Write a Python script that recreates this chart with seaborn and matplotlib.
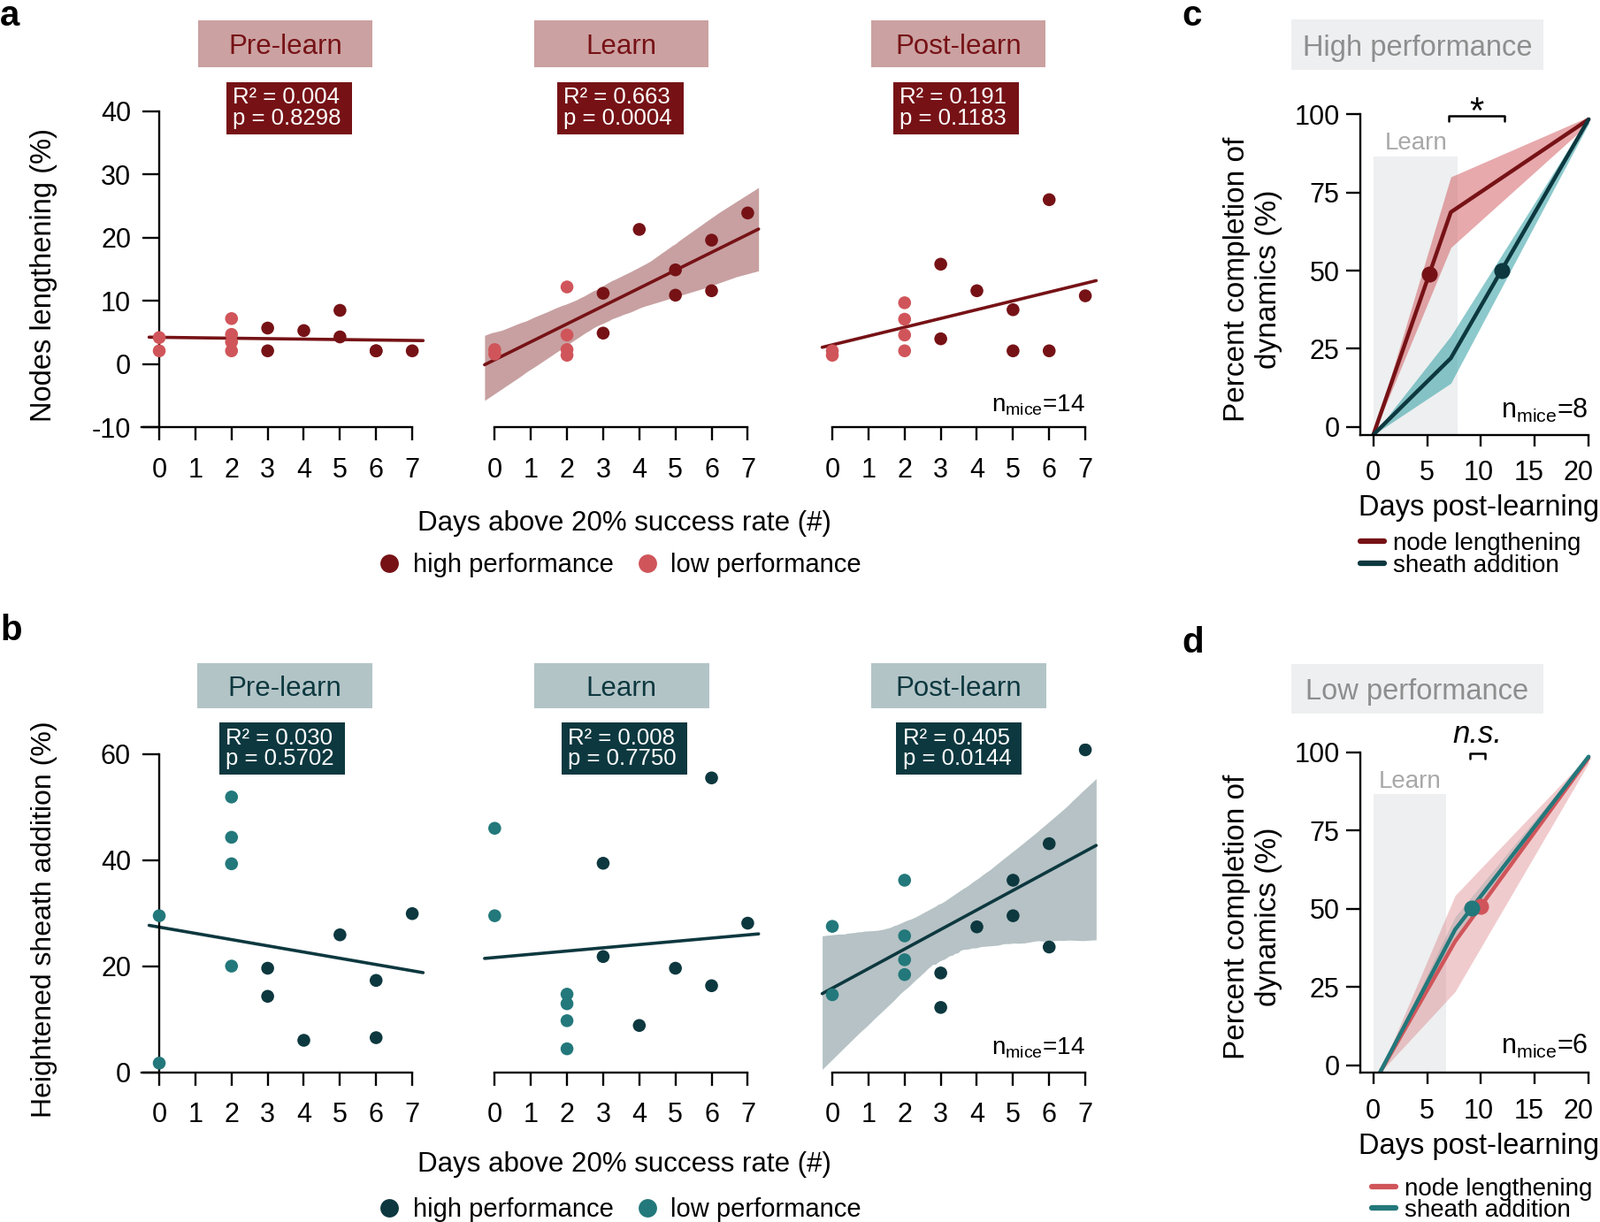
import numpy as np
import pandas as pd
import seaborn as sns
import matplotlib.pyplot as plt
from matplotlib.lines import Line2D
from matplotlib.patches import Rectangle
from matplotlib.transforms import ScaledTranslation

# ---- data: panel a (node lengthening, %) ----
days_high = [3, 3, 4, 5, 5, 6, 6, 7]
days_low = [0, 0, 2, 2, 2, 2]
node_pre_high = [5.7, 2.1, 5.3, 8.5, 4.3, 2.1, 2.1, 2.1]
node_pre_low = [4.2, 2.1, 7.2, 4.7, 3.5, 2.1]
node_learn_high = [11.2, 4.9, 21.3, 14.9, 10.9, 19.6, 11.6, 23.9]
node_learn_low = [2.3, 1.6, 12.2, 4.6, 2.3, 1.4]
node_post_high = [15.8, 4.0, 11.6, 8.6, 2.1, 26.0, 2.1, 10.8]
node_post_low = [2.1, 1.4, 9.7, 7.1, 4.6, 2.1]

# ---- data: panel b (heightened sheath addition, %) ----
days_high_b = [3, 3, 4, 5, 6, 6, 7]
sheath_pre_high = [19.6, 14.3, 6.0, 25.9, 17.3, 6.5, 29.9]
sheath_pre_low = [29.5, 1.7, 51.9, 44.3, 39.3, 20.0]
sheath_learn_high = [39.4, 21.8, 8.8, 19.6, 55.5, 16.3, 28.1]
sheath_learn_low = [46.0, 29.5, 14.7, 12.9, 9.7, 4.4]
sheath_post_high = [18.7, 12.2, 27.4, 36.2, 29.5, 43.1, 23.6, 60.8]
sheath_post_low = [27.5, 14.6, 36.2, 25.7, 21.2, 18.4]

phases = ["Pre-learn", "Learn", "Post-learn"]
r2_node = ["0.004", "0.663", "0.191"]
p_node = ["0.8298", "0.0004", "0.1183"]
r2_sheath = ["0.030", "0.008", "0.405"]
p_sheath = ["0.5702", "0.7750", "0.0144"]
ci_node = [None, 99, None]
ci_sheath = [None, None, 97]

# ---- data: panels c/d (percent completion of dynamics) ----
days_c = [0, 7.2, 20]
node_c = [-2.5, 68.7, 98.4]
node_c_lo = [-2.5, 57.4, 97.0]
node_c_hi = [-2.5, 80.0, 99.2]
sheath_c = [-2.5, 22.0, 98.4]
sheath_c_lo = [-2.5, 14.0, 97.0]
sheath_c_hi = [-2.5, 29.1, 99.2]
half_c = [5.2, 11.9]

days_d = [0.6, 7.6, 20]
node_d = [-2.35, 39.6, 98.2]
node_d_lo = [-2.35, 23.6, 96.5]
node_d_hi = [-2.35, 54.3, 99.0]
sheath_d = [-2.35, 43.4, 98.6]
sheath_d_lo = [-2.35, 40.0, 97.5]
sheath_d_hi = [-2.35, 47.5, 99.2]
half_d = [10.0, 9.15]

learn_c = [0.04, 7.86, 86.6]
learn_d = [0.0, 6.76, 86.6]
sig_c = [6.97, 12.2, 99.5]
sig_d = [8.96, 10.4, 99.7]

DARK_RED = "#761216"
LIGHT_RED = "#D0555A"
RED_BOX = "#CBA1A1"
DARK_TEAL = "#0D383F"
TEAL = "#23787B"
TEAL_BOX = "#B3C4C7"
GRAY_BOX = "#EDEFF0"
GRAY_TXT = "#8E8E8E"

sns.set_style("ticks", {"axes.edgecolor": "black", "xtick.color": "black",
                        "ytick.color": "black", "text.color": "black"})
plt.rcParams["font.family"] = ["Liberation Sans", "DejaVu Sans"]
plt.rcParams["axes.unicode_minus"] = False

W, H = 1809, 1382
fig = plt.figure(figsize=(W / 100, H / 100), dpi=100)


def px_rect(l, t, r, b):
    return [l / W, 1 - b / H, (r - l) / W, (b - t) / H]


def fx(x):
    return x / W


def fy(y):
    return 1 - y / H


def title_box(cx, top, bottom, w, face, text, tcolor, size):
    fig.add_artist(Rectangle((fx(cx - w / 2), fy(bottom)), w / W, (bottom - top) / H,
                             transform=fig.transFigure, facecolor=face, edgecolor="none"))
    fig.text(fx(cx), fy((top + bottom) / 2), text, ha="center", va="center_baseline",
             color=tcolor, fontsize=size)


def stat_box(cx, top, bottom, w, face, r2, p, base1, base2):
    left = cx - w / 2
    fig.add_artist(Rectangle((fx(left), fy(bottom)), w / W, (bottom - top) / H,
                             transform=fig.transFigure, facecolor=face, edgecolor="none"))
    fig.text(fx(left + 7), fy(base1), "R² = " + r2, color="white", fontsize=18.5, va="baseline")
    fig.text(fx(left + 7), fy(base2), "p = " + p, color="white", fontsize=18.5, va="baseline")


def scatter_panel(ax, first, x_hi, y_hi, x_lo, y_lo, dark, light, ci, band_alpha,
                  ylim, yticks):
    df = pd.DataFrame({"x": list(x_hi) + list(x_lo), "y": list(y_hi) + list(y_lo),
                       "group": ["high"] * len(x_hi) + ["low"] * len(x_lo)})
    sns.scatterplot(data=df, x="x", y="y", hue="group", palette={"high": dark, "low": light},
                    s=110, linewidth=0, legend=False, ax=ax, zorder=3)
    ax.set_xlim(-0.28, 7.3)
    ax.set_ylim(ylim)
    sns.regplot(data=df, x="x", y="y", scatter=False, ci=ci, truncate=False, seed=0,
                color=dark, line_kws={"lw": 2.6}, ax=ax)
    if ci is not None:
        band = ax.collections[-1]
        band.set_alpha(band_alpha)
        band.set_linewidth(0)
    ax.set_xlim(-0.5, 7.35)
    ax.set_ylim(ylim)
    ax.set_xticks(range(8))
    ax.spines[["top", "right"]].set_visible(False)
    if first:
        ax.spines["left"].set_position(("data", 0))
        ax.spines["left"].set_bounds(yticks[0], yticks[-1])
        ax.set_yticks(yticks)
        ax.spines["bottom"].set_bounds(-0.5, 7)
    else:
        ax.spines["left"].set_visible(False)
        ax.set_yticks([])
        ax.spines["bottom"].set_bounds(0, 7)
    for s in ax.spines.values():
        s.set_linewidth(1.7)
    ax.tick_params(axis="x", length=11, width=1.7, labelsize=22, pad=13)
    ax.tick_params(axis="y", length=14, width=1.7, labelsize=22, pad=9)
    ax.set_xlabel("")
    ax.set_ylabel("")


lefts = [159.6, 538.9, 920.6]
a_high = [node_pre_high, node_learn_high, node_post_high]
a_low = [node_pre_low, node_learn_low, node_post_low]
b_high = [sheath_pre_high, sheath_learn_high, sheath_post_high]
b_low = [sheath_pre_low, sheath_learn_low, sheath_post_low]
b_days = [days_high_b, days_high_b, days_high]

title_a = [322.3, 702.5, 1083.7]
stat_a = [327.2, 701.5, 1080.8]
title_b = [321.8, 702.5, 1083.5]
stat_b = [319.2, 706.2, 1084.5]

for i in range(3):
    ax = fig.add_axes(px_rect(lefts[i], 125.7, lefts[i] + 320.8, 483.3))
    scatter_panel(ax, i == 0, days_high, a_high[i], days_low, a_low[i], DARK_RED, LIGHT_RED,
                  ci_node[i], 0.4, (-10, 40), [-10, 0, 10, 20, 30, 40])
    title_box(title_a[i], 22.7, 76, 197, RED_BOX, phases[i], DARK_RED, 22.5)
    stat_box(stat_a[i], 93.3, 152.3, 142.3, DARK_RED, r2_node[i], p_node[i], 117.3, 140.7)

    ax = fig.add_axes(px_rect(lefts[i], 840.8, lefts[i] + 320.8, 1212.5))
    scatter_panel(ax, i == 0, b_days[i], b_high[i], days_low, b_low[i], DARK_TEAL, TEAL,
                  ci_sheath[i], 0.3, (0, 62), [0, 20, 40, 60])
    title_box(title_b[i], 749.8, 801.1, 198, TEAL_BOX, phases[i], DARK_TEAL, 22.5)
    stat_box(stat_b[i], 816.9, 876.2, 142, DARK_TEAL, r2_sheath[i], p_sheath[i], 842, 865.4)

nm = r"n$_{\mathregular{mice}}$=14"
fig.text(fx(1226.7), fy(465), nm, ha="right", va="baseline", fontsize=20)
fig.text(fx(1226.7), fy(1192), nm, ha="right", va="baseline", fontsize=20)

fig.text(fx(50), fy(310.8), "Nodes lengthening (%)", rotation=90, ha="center", va="center",
         fontsize=23.5)
fig.text(fx(50), fy(1039.5), "Heightened sheath addition (%)", rotation=90, ha="center",
         va="center", fontsize=23)
fig.text(fx(705.5), fy(591.7), "Days above 20% success rate (#)", ha="center", va="center",
         fontsize=22.5)
fig.text(fx(705.5), fy(1316.7), "Days above 20% success rate (#)", ha="center", va="center",
         fontsize=22.5)

for y0, dark, light in [(639, DARK_RED, LIGHT_RED), (1368.3, DARK_TEAL, TEAL)]:
    handles = [Line2D([], [], marker="o", ls="", color=dark, markersize=15, markeredgewidth=0),
               Line2D([], [], marker="o", ls="", color=light, markersize=15, markeredgewidth=0)]
    fig.legend(handles, ["high performance", "low performance"], loc="center left",
               bbox_to_anchor=(fx(428.8), fy(y0)), ncol=2, frameon=False, fontsize=21,
               handlelength=0.8, handletextpad=0.5, columnspacing=0.9, borderpad=0,
               borderaxespad=0)


# ---- panels c and d ----
def curve_panel(rect, ybottom, days, lines, learn, sig, sig_text, half, nmice, nm_base):
    ax = fig.add_axes(px_rect(*rect))
    ax.set_xlim(-1.25, 20.5)
    ax.set_ylim(ybottom, 100)
    ax.add_patch(Rectangle((learn[0], ybottom), learn[1] - learn[0], learn[2] - ybottom,
                           facecolor=GRAY_BOX, edgecolor="none", zorder=0))
    ax.text((learn[0] + learn[1]) / 2, 91.5, "Learn", ha="center", va="center_baseline",
            color="#A8A8A8", fontsize=20, clip_on=False)
    for (mean, lo, hi, lc, bc, ba), hx in zip(lines, half):
        ax.fill_between(days, lo, hi, color=bc, alpha=ba, lw=0, zorder=1)
        sns.lineplot(x=days, y=mean, color=lc, lw=3.2, ax=ax, zorder=2)
        hy = np.interp(hx, days, mean)
        sns.scatterplot(x=[hx], y=[hy], color=lc, s=170, linewidth=0, ax=ax, zorder=3,
                        legend=False)
    x0, x1, yb = sig
    ax.plot([x0, x0, x1, x1], [yb - 1.7, yb, yb, yb - 1.7], color="black", lw=1.8,
            clip_on=False)
    if sig_text == "*":
        ax.text((x0 + x1) / 2, 97.3, "*", ha="center", va="baseline", fontsize=30,
                clip_on=False)
    else:
        ax.text((x0 + x1) / 2, 103, sig_text, ha="center", va="baseline", fontsize=25,
                style="italic", clip_on=False)
    ax.set_xticks([0, 5, 10, 15, 20])
    ax.set_yticks([0, 25, 50, 75, 100])
    ax.spines[["top", "right"]].set_visible(False)
    ax.spines["bottom"].set_bounds(-1.25, 20)
    for s in ax.spines.values():
        s.set_linewidth(1.7)
    ax.tick_params(axis="x", length=9.5, width=1.7, labelsize=22, pad=11)
    ax.tick_params(axis="y", length=11.5, width=1.7, labelsize=22, pad=5)
    # the reference squeezes the day labels slightly to the left
    for lbl, dx in zip(ax.get_xticklabels(), [0, 0, -3, -7, -12]):
        lbl.set_transform(lbl.get_transform() + ScaledTranslation(dx / 100, 0,
                                                                  fig.dpi_scale_trans))
    fig.text(fx(rect[2] - 7), fy(nm_base), r"n$_{\mathregular{mice}}$=" + nmice, ha="right",
             va="baseline", fontsize=22)
    return ax


curve_panel((1537.5, 129.3, 1802.2, 491.7), -2.5, days_c,
            [(node_c, node_c_lo, node_c_hi, DARK_RED, LIGHT_RED, 0.5),
             (sheath_c, sheath_c_lo, sheath_c_hi, DARK_TEAL, "#2E9DA3", 0.55)],
            learn_c, sig_c, "*", half_c, "8", 473.3)
curve_panel((1537.5, 850.7, 1802.2, 1213.3), -2.35, days_d,
            [(node_d, node_d_lo, node_d_hi, LIGHT_RED, LIGHT_RED, 0.3),
             (sheath_d, sheath_d_lo, sheath_d_hi, TEAL, "#6E8C90", 0.25)],
            learn_d, sig_d, "n.s.", half_d, "6", 1191.7)

for y_mid, y_lab, title in [(50.5, 316, "High performance"), (778.6, 1036.6, "Low performance")]:
    title_box(1602.5, y_mid - 28, y_mid + 28, 285, GRAY_BOX, title, GRAY_TXT, 23.5)
    fig.text(fx(1416.5), fy(y_lab), "Percent completion of\ndynamics (%)", rotation=90,
             ha="center", va="center", multialignment="center", fontsize=24, linespacing=1.2)

fig.text(fx(1671.7), fy(574.5), "Days post-learning", ha="center", va="center", fontsize=23.5)
fig.text(fx(1671.7), fy(1296.8), "Days post-learning", ha="center", va="center", fontsize=23.5)

for x0, y_mid, c1, c2 in [(1537.7, 627.3, DARK_RED, DARK_TEAL), (1550.7, 1356.9, LIGHT_RED, TEAL)]:
    handles = [Line2D([], [], color=c1, lw=4.5), Line2D([], [], color=c2, lw=4.5)]
    fig.legend(handles, ["node lengthening", "sheath addition"], loc="center left",
               bbox_to_anchor=(fx(x0), fy(y_mid)), frameon=False, fontsize=20,
               handlelength=1.0, handletextpad=0.35, labelspacing=-0.05, borderpad=0,
               borderaxespad=0)

for lab, x, y in [("a", 0, 29), ("b", 0, 724), ("c", 1336, 29), ("d", 1336, 738)]:
    fig.text(fx(x), fy(y), lab, fontsize=29, fontweight="bold", va="baseline")

fig.savefig("out.png", dpi=100)
